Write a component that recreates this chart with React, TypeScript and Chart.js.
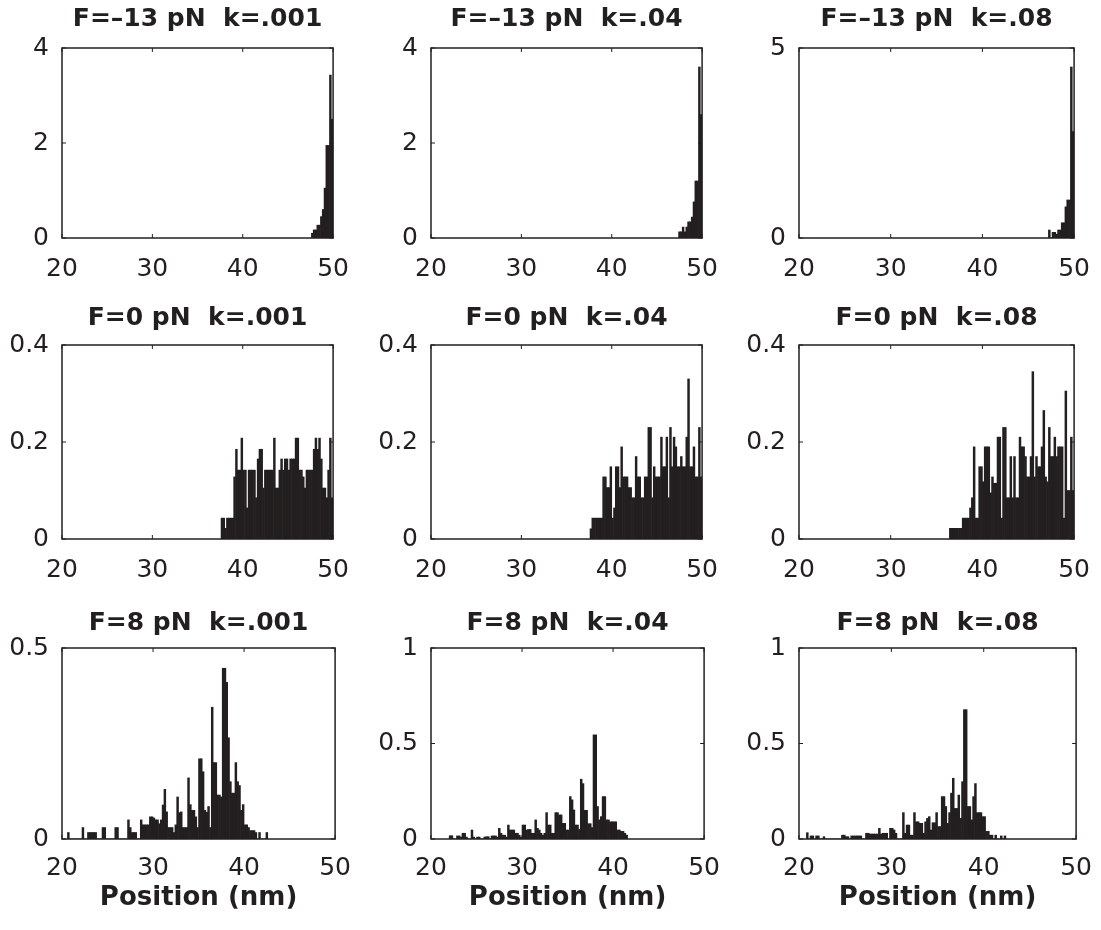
import React, { useEffect, useRef } from "react";
import { Chart, registerables } from "chart.js";

Chart.register(...registerables);

// ---------- data ----------
const BIN_WIDTH = 0.2; // nm, histogram bin width
const X_MIN = 20;
const X_MAX = 50;
const X_TICKS = [20, 30, 40, 50];
const X_LABEL = "Position (nm)";

const TITLES_ROW1 = ["F=–13 pN  k=.001", "F=–13 pN  k=.04", "F=–13 pN  k=.08"];
const TITLES_ROW2 = ["F=0 pN  k=.001", "F=0 pN  k=.04", "F=0 pN  k=.08"];
const TITLES_ROW3 = ["F=8 pN  k=.001", "F=8 pN  k=.04", "F=8 pN  k=.08"];

const Y_MAX = [
  [4, 4, 5],
  [0.4, 0.4, 0.4],
  [0.5, 1, 1],
];
const Y_TICKS = [
  [[0, 2, 4], [0, 2, 4], [0, 5]],
  [[0, 0.2, 0.4], [0, 0.2, 0.4], [0, 0.2, 0.4]],
  [[0, 0.5], [0, 0.5, 1], [0, 0.5, 1]],
];

// Row 1: F = -13 pN (first bin left edge, then bin heights)
const r1c1Start = 47.6;
const r1c1Values = [0.1, 0.17, 0.17, 0.27, 0.27, 0.45, 0.6, 1.05, 1.95, 1.95, 3.43, 2.5];
const r1c2Start = 47.4;
const r1c2Values = [0.13, 0.13, 0.23, 0.13, 0.23, 0.34, 0.34, 0.44, 0.76, 1.2, 1.2, 3.6, 2.6];
const r1c3Start = 47.2;
const r1c3Values = [0.21, 0, 0.15, 0.15, 0.1, 0.21, 0.21, 0.4, 0.4, 0.82, 1.0, 1.0, 4.5, 2.8];

// Row 2: F = 0 pN
const r2c1Start = 37.6;
const r2c1Values = [
  0.043, 0.043, 0.022, 0.043, 0.043, 0.043, 0.043, 0.128, 0.185, 0.142,
  0.142, 0.208, 0.142, 0.142, 0.064, 0.142, 0.142, 0.142, 0.142, 0.085,
  0.165, 0.185, 0.185, 0.105, 0.142, 0.142, 0.142, 0.142, 0.142, 0.208,
  0.105, 0.105, 0.142, 0.165, 0.142, 0.165, 0.165, 0.142, 0.165, 0.165,
  0.165, 0.208, 0.208, 0.142, 0.142, 0.128, 0.105, 0.142, 0.142, 0.142,
  0.142, 0.185, 0.208, 0.185, 0.208, 0.165, 0.105, 0.105, 0.085, 0.142,
  0.208, 0.085,
];
const r2c2Start = 37.6;
const r2c2Values = [
  0.021, 0.043, 0.043, 0.043, 0.043, 0.043, 0.043, 0.128, 0.128, 0.106,
  0.106, 0.149, 0.043, 0.064, 0.149, 0.149, 0.106, 0.19, 0.128, 0.128,
  0.128, 0.106, 0.106, 0.085, 0.085, 0.17, 0.128, 0.128, 0.085, 0.085,
  0.128, 0.128, 0.23, 0.23, 0.085, 0.149, 0.128, 0.128, 0.128, 0.21,
  0.149, 0.149, 0.21, 0.085, 0.23, 0.149, 0.21, 0.19, 0.149, 0.149,
  0.17, 0.149, 0.149, 0.21, 0.33, 0.149, 0.149, 0.19, 0.128, 0.128,
  0.23, 0.128,
];
const r2c3Start = 36.4;
const r2c3Values = [
  0.022, 0.022, 0.022, 0.022, 0.022, 0.022, 0.022, 0.043, 0.043, 0.043,
  0.043, 0.064, 0.085, 0.19, 0.043, 0.043, 0.149, 0.149, 0.118, 0.19,
  0.19, 0.19, 0.095, 0.128, 0.115, 0.115, 0.21, 0.21, 0.043, 0.23,
  0.23, 0.085, 0.085, 0.17, 0.085, 0.17, 0.085, 0.085, 0.21, 0.19,
  0.19, 0.17, 0.128, 0.128, 0.17, 0.345, 0.128, 0.17, 0.149, 0.149,
  0.19, 0.265, 0.128, 0.118, 0.23, 0.17, 0.17, 0.21, 0.17, 0.19,
  0.19, 0.19, 0.043, 0.305, 0.1, 0.1, 0.21, 0.1,
];

// Row 3: F = 8 pN
const r3c1Start = 20.6;
const r3c1Values = [
  0.017, 0, 0, 0, 0, 0, 0, 0, 0.03, 0,
  0, 0.017, 0.017, 0.017, 0.017, 0.017, 0, 0, 0, 0.03,
  0.03, 0, 0, 0, 0, 0, 0.03, 0.03, 0, 0,
  0, 0, 0, 0.05, 0.03, 0.017, 0.017, 0.017, 0, 0,
  0.05, 0.037, 0.037, 0.037, 0.037, 0.058, 0.058, 0.055, 0.05, 0.05,
  0.04, 0.05, 0.089, 0.13, 0.071, 0.03, 0.03, 0.03, 0.017, 0.037,
  0.11, 0.069, 0.071, 0.03, 0.03, 0.03, 0.16, 0.09, 0.075, 0.075,
  0.058, 0.03, 0.21, 0.21, 0.176, 0.075, 0.07, 0.085, 0.03, 0.345,
  0.2, 0.2, 0.115, 0.115, 0.11, 0.447, 0.447, 0.41, 0.265, 0.15,
  0.12, 0.12, 0.2, 0.15, 0.14, 0.075, 0.09, 0.037, 0.037, 0.03,
  0.022, 0.022, 0.022, 0.017, 0, 0.017, 0, 0, 0, 0.017,
];
const r3c2Start = 22.0;
const r3c2Values = [
  0.017, 0.017, 0, 0, 0.016, 0.016, 0.01, 0.03, 0.03, 0.01,
  0, 0, 0.047, 0.01, 0, 0.01, 0.01, 0, 0, 0.01,
  0.012, 0.012, 0, 0.016, 0.016, 0.016, 0.01, 0.056, 0.03, 0.02,
  0.02, 0.01, 0.073, 0.047, 0.047, 0.047, 0.03, 0.03, 0.02, 0.01,
  0.073, 0.073, 0.047, 0.05, 0.05, 0.03, 0.03, 0.1, 0.056, 0.047,
  0.03, 0.02, 0.03, 0.138, 0.073, 0.073, 0.03, 0.03, 0.138, 0.138,
  0.126, 0.126, 0.082, 0.082, 0.047, 0.047, 0.222, 0.205, 0.152, 0.073,
  0.073, 0.05, 0.313, 0.29, 0.15, 0.15, 0.08, 0.08, 0.06, 0.545,
  0.545, 0.17, 0.1, 0.117, 0.222, 0.222, 0.1, 0.1, 0.09, 0.09,
  0.09, 0.09, 0.047, 0.047, 0.04, 0.04, 0.03, 0.02,
];
const r3c3Start = 20.8;
const r3c3Values = [
  0.033, 0, 0.016, 0.016, 0, 0.016, 0.016, 0, 0, 0.012,
  0, 0, 0, 0, 0, 0, 0, 0, 0, 0.02,
  0.02, 0.012, 0.012, 0, 0.016, 0.016, 0.016, 0.016, 0.016, 0.016,
  0, 0, 0.03, 0.03, 0.026, 0.026, 0.026, 0.026, 0.026, 0.056,
  0.026, 0.03, 0.03, 0.03, 0, 0.056, 0.056, 0.047, 0.03, 0,
  0, 0, 0.138, 0.03, 0.073, 0.073, 0.02, 0.02, 0.138, 0.09,
  0.09, 0.082, 0.082, 0.03, 0.09, 0.108, 0.117, 0.047, 0.085, 0.085,
  0.138, 0.065, 0.065, 0.222, 0.222, 0.17, 0.082, 0.138, 0.24, 0.318,
  0.16, 0.16, 0.23, 0.108, 0.3, 0.677, 0.677, 0.17, 0.17, 0.1,
  0.222, 0.29, 0.138, 0.138, 0.138, 0.117, 0.117, 0.04, 0.04, 0.02,
  0.02, 0, 0.02, 0, 0, 0.016, 0, 0.016,
];

// ---------- layout / style ----------
const INK = "#231f20";
const FONT = '"DejaVu Sans", "Liberation Sans", sans-serif';
const COL_LEFT = [62, 431, 799];
const COL_WIDTH = [275, 275, 279];
const ROW_TOP = [48, 345, 648];
const ROW_HEIGHT = [190, 194, 191];
const TITLE_GAP = [22, 20, 18];
const XTICK_PAD = [8, 8, 6];
const YTICK_PAD = 5;
const PAD_L = 58;
const PAD_R = 20;
const PAD_T = 46;
const PAD_B = 40;
const PAD_B_LABEL = 78;

type PanelCfg = {
  key: string;
  title: string;
  start: number;
  values: number[];
  yMax: number;
  yTicks: number[];
  row: number;
  col: number;
  xLabel?: string;
};

const TITLES = [TITLES_ROW1, TITLES_ROW2, TITLES_ROW3];
const STARTS = [
  [r1c1Start, r1c2Start, r1c3Start],
  [r2c1Start, r2c2Start, r2c3Start],
  [r3c1Start, r3c2Start, r3c3Start],
];
const VALUES = [
  [r1c1Values, r1c2Values, r1c3Values],
  [r2c1Values, r2c2Values, r2c3Values],
  [r3c1Values, r3c2Values, r3c3Values],
];

const PANELS: PanelCfg[] = [];
for (let r = 0; r < 3; r++) {
  for (let c = 0; c < 3; c++) {
    PANELS.push({
      key: `p${r}${c}`,
      title: TITLES[r][c],
      start: STARTS[r][c],
      values: VALUES[r][c],
      yMax: Y_MAX[r][c],
      yTicks: Y_TICKS[r][c],
      row: r,
      col: c,
      xLabel: r === 2 ? X_LABEL : undefined,
    });
  }
}

function makeFramePlugin(p: PanelCfg) {
  return {
    id: "matlabFrame",
    afterDatasetsDraw(chart: any) {
      const { ctx, chartArea: a, scales } = chart;
      ctx.save();
      ctx.strokeStyle = INK;
      ctx.lineWidth = 1;
      const tl = 4;
      ctx.beginPath();
      for (const t of scales.x.ticks) {
        const px = scales.x.getPixelForValue(t.value);
        ctx.moveTo(px, a.bottom);
        ctx.lineTo(px, a.bottom - tl);
        ctx.moveTo(px, a.top);
        ctx.lineTo(px, a.top + tl);
      }
      for (const t of scales.y.ticks) {
        const py = scales.y.getPixelForValue(t.value);
        ctx.moveTo(a.left, py);
        ctx.lineTo(a.left + tl, py);
        ctx.moveTo(a.right, py);
        ctx.lineTo(a.right - tl, py);
      }
      ctx.stroke();
      ctx.lineWidth = 1.5;
      ctx.strokeRect(a.left, a.top, a.right - a.left, a.bottom - a.top);

      ctx.fillStyle = INK;
      ctx.font = `bold 25px ${FONT}`;
      ctx.textAlign = "center";
      ctx.textBaseline = "alphabetic";
      const cx = (a.left + a.right) / 2;
      ctx.fillText(p.title, cx, a.top - TITLE_GAP[p.row]);
      if (p.xLabel) {
        ctx.font = `bold 26px ${FONT}`;
        ctx.fillText(p.xLabel, cx, a.bottom + 66);
      }
      ctx.restore();
    },
  };
}

function Panel({ p }: { p: PanelCfg }) {
  const ref = useRef<HTMLCanvasElement>(null);
  const padB = p.xLabel ? PAD_B_LABEL : PAD_B;
  const w = COL_WIDTH[p.col] + PAD_L + PAD_R;
  const h = ROW_HEIGHT[p.row] + PAD_T + padB;
  const left = COL_LEFT[p.col] - PAD_L;
  const top = ROW_TOP[p.row] - PAD_T;

  useEffect(() => {
    if (!ref.current) return;
    const data = p.values.map((v, i) => ({ x: p.start + (i + 0.5) * BIN_WIDTH, y: v }));
    const chart = new Chart(ref.current, {
      type: "bar",
      data: {
        datasets: [
          {
            data: data as any,
            backgroundColor: INK,
            borderWidth: 0,
            barPercentage: 1,
            categoryPercentage: 1,
          },
        ],
      },
      options: {
        animation: false,
        responsive: false,
        devicePixelRatio: 1,
        events: [],
        layout: { padding: { top: PAD_T, right: PAD_R, left: 0, bottom: 0 } },
        plugins: {
          legend: { display: false },
          tooltip: { enabled: false },
          title: { display: false },
        },
        scales: {
          x: {
            type: "linear",
            min: X_MIN,
            max: X_MAX,
            offset: false,
            grid: { display: false },
            border: { display: false },
            afterBuildTicks: (s: any) => {
              s.ticks = X_TICKS.map((v) => ({ value: v }));
            },
            afterFit: (s: any) => {
              s.height = padB;
            },
            ticks: {
              font: { size: 25, family: FONT },
              color: INK,
              padding: XTICK_PAD[p.row],
              maxRotation: 0,
              autoSkip: false,
              callback: (v: any) => String(v),
            },
          },
          y: {
            type: "linear",
            min: 0,
            max: p.yMax,
            grid: { display: false },
            border: { display: false },
            afterBuildTicks: (s: any) => {
              s.ticks = p.yTicks.map((v) => ({ value: v }));
            },
            afterFit: (s: any) => {
              s.width = PAD_L;
            },
            ticks: {
              font: { size: 25, family: FONT },
              color: INK,
              padding: YTICK_PAD,
              callback: (v: any) => String(v),
            },
          },
        },
      } as any,
      plugins: [makeFramePlugin(p)],
    });
    return () => chart.destroy();
  }, [p]);

  return (
    <canvas
      ref={ref}
      width={w}
      height={h}
      style={{ position: "absolute", left, top, width: w, height: h }}
    />
  );
}

export default function App() {
  return (
    <div
      style={{
        position: "absolute",
        left: 0,
        top: 0,
        width: 1101,
        height: 930,
        background: "#ffffff",
        overflow: "hidden",
      }}
    >
      {PANELS.map((p) => (
        <Panel key={p.key} p={p} />
      ))}
    </div>
  );
}
